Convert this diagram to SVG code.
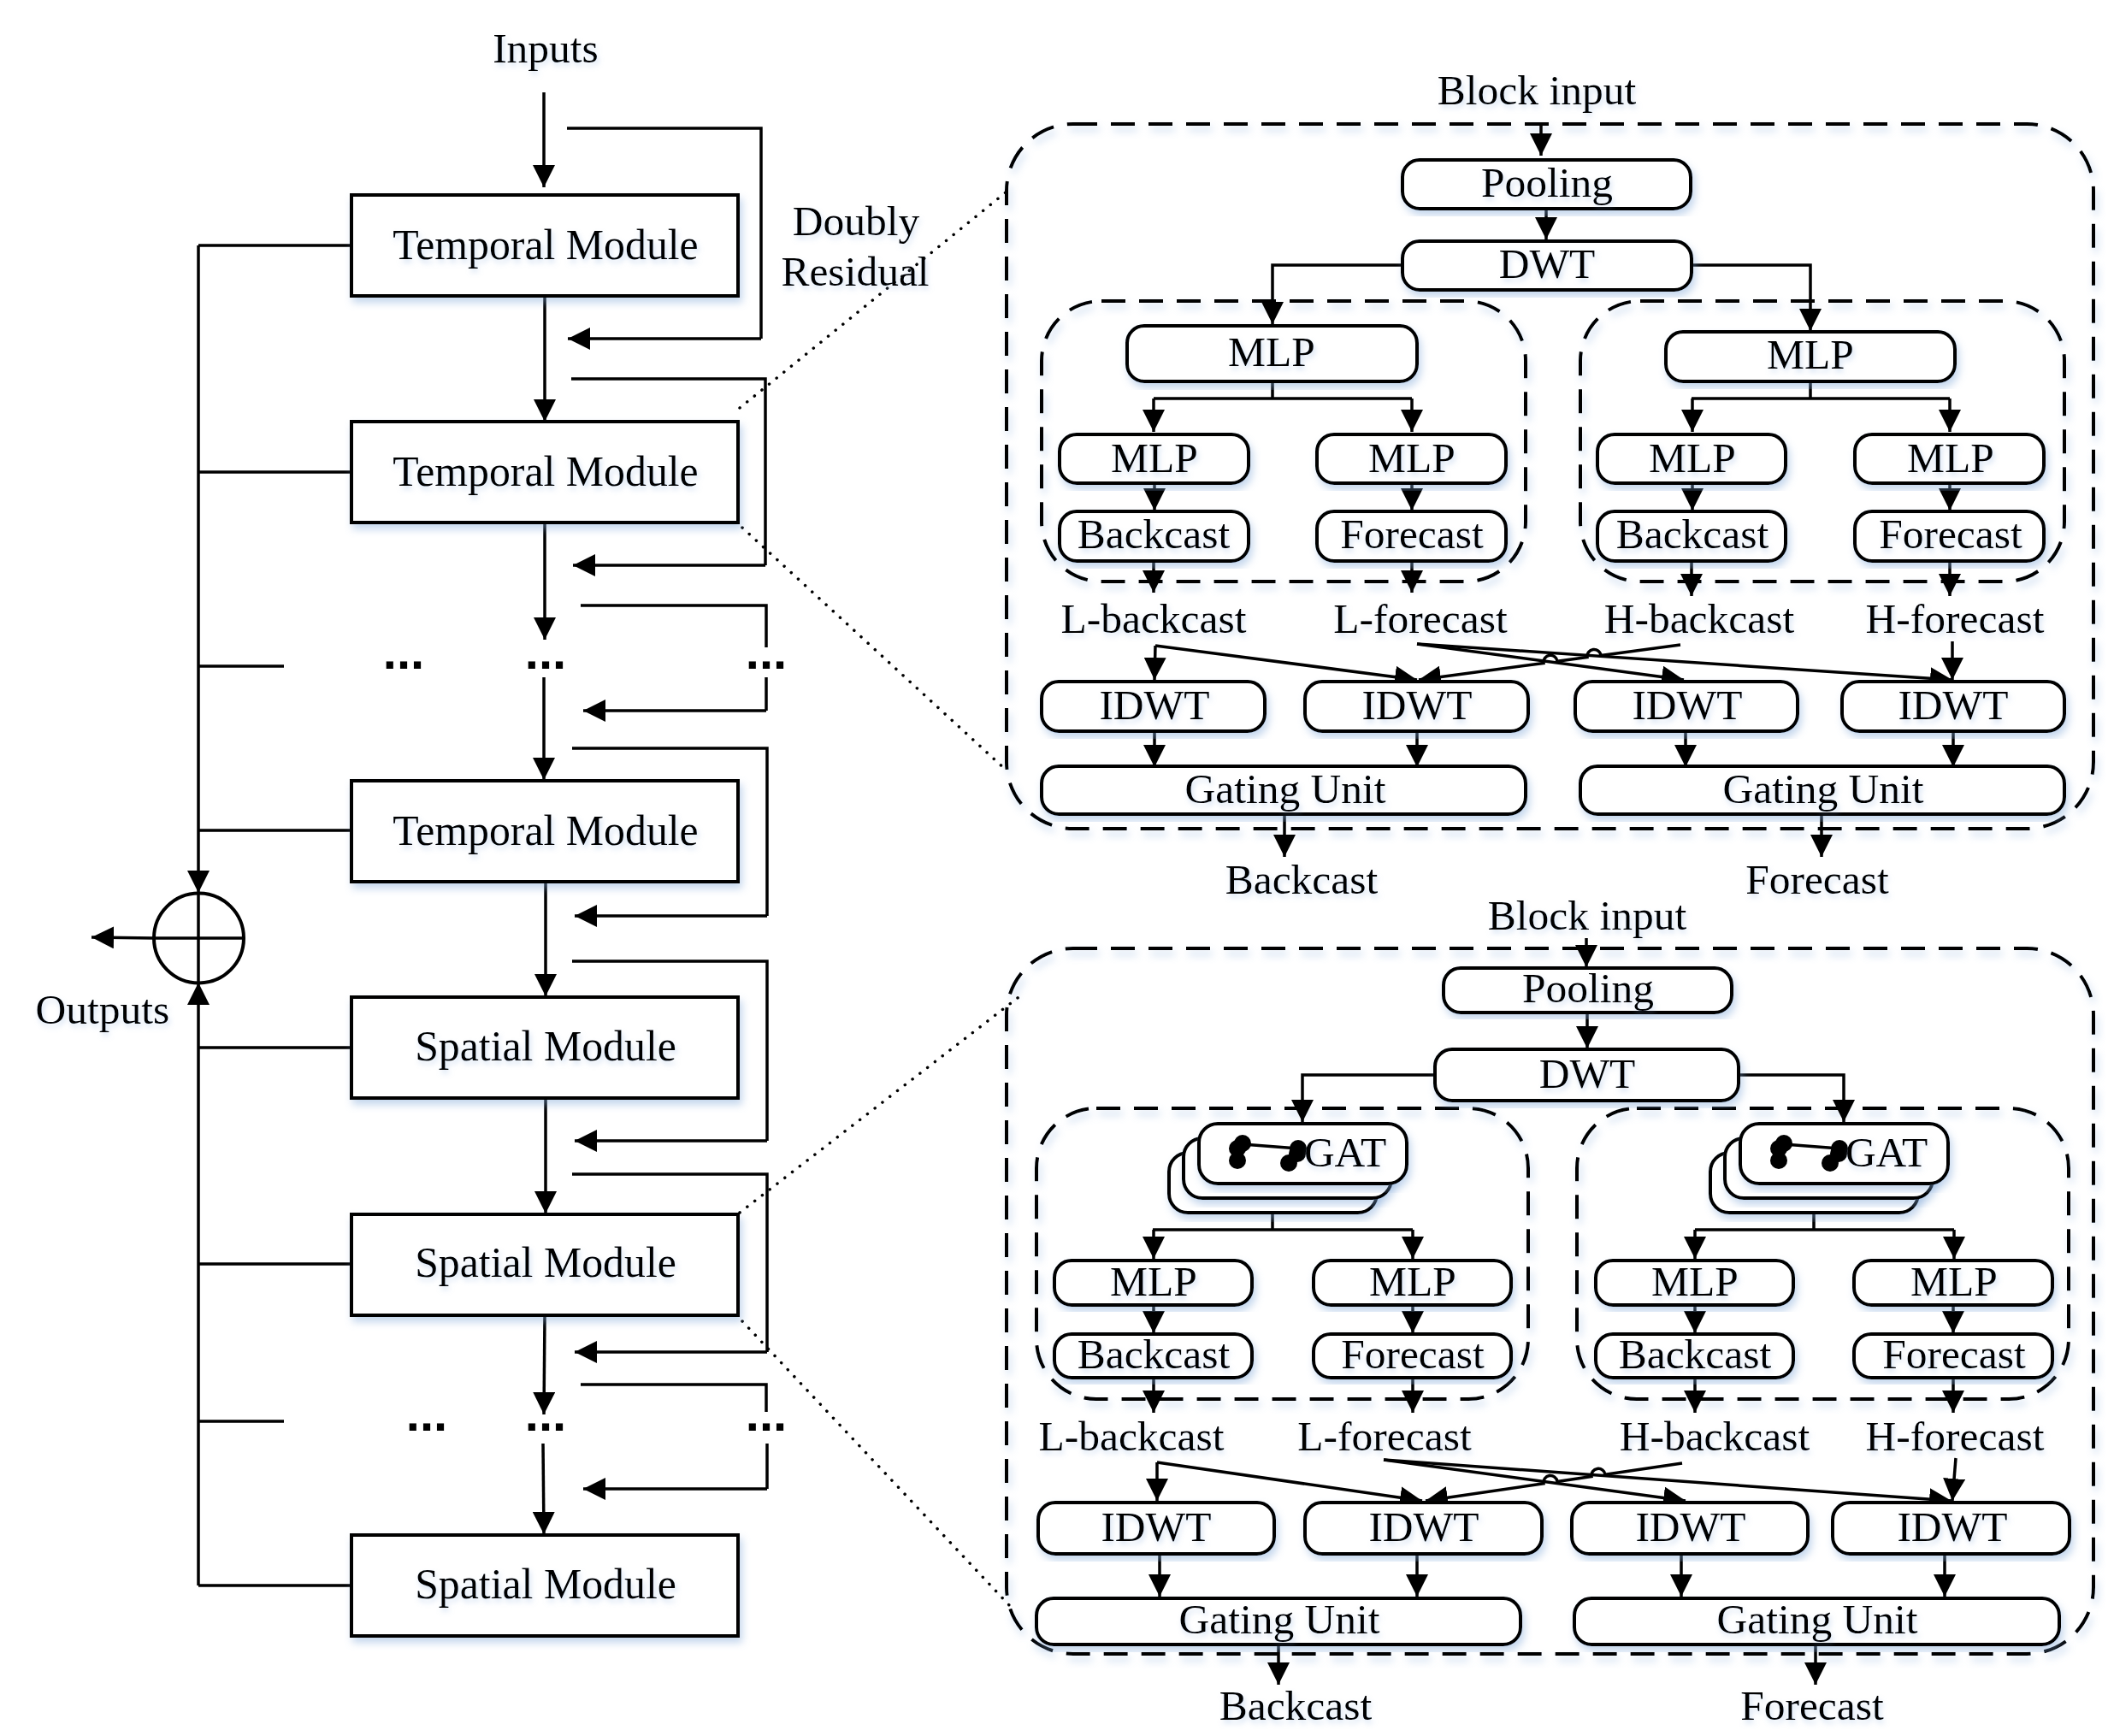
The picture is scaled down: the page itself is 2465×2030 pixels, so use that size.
<svg xmlns="http://www.w3.org/2000/svg" width="2465" height="2030" viewBox="0 0 2465 2030">
<style>
text{font-family:"Liberation Serif","Times New Roman",serif;font-size:49.5px;fill:#000;text-anchor:middle;filter:url(#ts)}
.dots{font-family:"Liberation Sans",Arial,sans-serif;font-weight:bold;font-size:58px;filter:none}
.mt{font-size:49.8px}
.m{fill:#fff;stroke:#000;stroke-width:4;filter:url(#bs)}
.r{fill:#fff;stroke:#000;stroke-width:4;filter:url(#bs)}
.d{fill:none;stroke:#000;stroke-width:4;stroke-dasharray:28 16;filter:url(#bs)}
.c{fill:none;stroke:#000;stroke-width:3.5}
.a{fill:none;stroke:#000;stroke-width:3.5;marker-end:url(#ah)}
.dot{fill:none;stroke:#000;stroke-width:3.5;stroke-dasharray:0.1 11;stroke-linecap:round}
.n{fill:#000}
</style>
<defs>
<marker id="ah" markerUnits="userSpaceOnUse" viewBox="0 0 26 26" refX="26" refY="13" markerWidth="26" markerHeight="26" orient="auto"><path d="M0 0L26 13L0 26z" fill="#000"/></marker>
<filter id="bs" x="-10%" y="-10%" width="125%" height="125%"><feDropShadow dx="3" dy="6" stdDeviation="5" flood-color="#7fa6d8" flood-opacity="0.45"/></filter>
<filter id="ts" x="-5%" y="-10%" width="115%" height="130%"><feDropShadow dx="2" dy="4" stdDeviation="3" flood-color="#7fa6d8" flood-opacity="0.35"/></filter>
</defs>
<g id="panel-frames">
<rect id="outer-top" class="d" x="1177" y="145" width="1271" height="824" rx="78"/>
<rect id="outer-bottom" class="d" x="1177" y="1109" width="1271" height="825" rx="78"/>
<rect id="inner-tl" class="d" x="1218" y="352" width="566" height="328" rx="70"/>
<rect id="inner-tr" class="d" x="1848" y="352" width="566" height="328" rx="70"/>
<rect id="inner-bl" class="d" x="1212" y="1296" width="575" height="340" rx="70"/>
<rect id="inner-br" class="d" x="1844" y="1296" width="575" height="340" rx="70"/>
</g>
<g id="connectors">
<path class="a" d="M636 108V219"/>
<path class="c" d="M663 150H890V396"/><path class="a" d="M890 396H664"/>
<path class="a" d="M637 346V493"/>
<path class="c" d="M668 443H895V661"/><path class="a" d="M895 661H670"/>
<path class="a" d="M637 611V748"/>
<path class="c" d="M679 708H896V757"/>
<path class="c" d="M896 792V831"/><path class="a" d="M896 831H682"/>
<path class="a" d="M636 792V912"/>
<path class="c" d="M669 875H897V1071"/><path class="a" d="M897 1071H672"/>
<path class="a" d="M638 1031V1165"/>
<path class="c" d="M669 1124H897V1334"/><path class="a" d="M897 1334H672"/>
<path class="a" d="M638 1284V1419"/>
<path class="c" d="M669 1373H897V1581"/><path class="a" d="M897 1581H672"/>
<path class="a" d="M637 1538L636 1654"/>
<path class="c" d="M679 1619H896V1651"/>
<path class="c" d="M897 1688V1741"/><path class="a" d="M897 1741H682"/>
<path class="a" d="M635 1688L636 1794"/>
<path class="c" d="M411 287H232"/>
<path class="a" d="M232 287V1044"/>
<path class="a" d="M232 1854V1149"/>
<path class="c" d="M411 552H232M411 971H232M332 779H232M411 1225H232M411 1478H232M332 1662H232M411 1854H232"/>
<path class="a" d="M180 1097L107 1096"/>
<path class="dot" d="M865 477L1176 225"/>
<path class="dot" d="M868 617L1176 900"/>
<path class="dot" d="M865 1418L1195 1163"/>
<path class="dot" d="M868 1545L1181 1878"/>

<path class="a" d="M1802 144V182"/>
<path class="a" d="M1808 245V280"/>
<path class="a" d="M1640 310H1488V379"/>
<path class="a" d="M1978 310H2117V387"/>
<path class="c" d="M1488 447V466M2117 447V466"/>
<path class="c" d="M1349 466H1651"/>
<path class="a" d="M1349 466V505"/><path class="a" d="M1651 466V505"/>
<path class="c" d="M1978 466H2280"/><path class="a" d="M1979 466V505"/><path class="a" d="M2280 466V505"/>
<path class="a" d="M1350 565V597"/><path class="a" d="M1651 565V597"/><path class="a" d="M1979 565V597"/><path class="a" d="M2280 565V597"/>
<path class="a" d="M1349 656V693"/><path class="a" d="M1651 656V693"/><path class="a" d="M1978 656V697"/><path class="a" d="M2280 656V697"/>
<path class="a" d="M1351 755L1350 795"/>
<path class="a" d="M1351 755L1657 795"/>
<path class="a" d="M1657 753L1969 795"/>
<path class="a" d="M1657 753L2283 795"/>
<path class="a" d="M1965 754L1872 766.500A8 8 0 0 0 1856 768.600L1821 773.300A8 8 0 0 0 1805 775.400L1659 795"/>
<path class="a" d="M2283 750V795"/>
<path class="a" d="M1350 855V897"/><path class="a" d="M1657 855V897"/><path class="a" d="M1971 855V897"/><path class="a" d="M2284 855V897"/>
<path class="a" d="M1502 953V1002"/><path class="a" d="M2130 953V1002"/>

<path class="a" d="M1855 1097V1131"/>
<path class="a" d="M1856 1185V1226"/>
<path class="a" d="M1678 1257H1523V1312"/>
<path class="a" d="M2034 1257H2156V1312"/>
<path class="c" d="M1488 1418V1438M1348 1438H1652"/><path class="a" d="M1349 1438V1472"/><path class="a" d="M1652 1438V1472"/>
<path class="c" d="M2121 1418V1438M1982 1438H2285"/><path class="a" d="M1982 1438V1472"/><path class="a" d="M2285 1438V1472"/>
<path class="a" d="M1349 1526V1559"/><path class="a" d="M1652 1526V1559"/><path class="a" d="M1982 1526V1559"/><path class="a" d="M2284 1526V1559"/>
<path class="a" d="M1349 1611V1652"/><path class="a" d="M1652 1611V1652"/><path class="a" d="M1982 1611V1652"/><path class="a" d="M2284 1611V1652"/>
<path class="a" d="M1353 1710V1755"/>
<path class="a" d="M1353 1710L1663 1755"/>
<path class="a" d="M1618 1707L1971 1755"/>
<path class="a" d="M1618 1707L2282 1755"/>
<path class="a" d="M1967 1711L1877 1724.200A8 8 0 0 0 1861 1726.600L1821 1732.400A8 8 0 0 0 1805 1734.800L1667 1755"/>
<path class="a" d="M2287 1705L2283 1755"/>
<path class="a" d="M1356 1818V1867"/><path class="a" d="M1657 1818V1867"/><path class="a" d="M1966 1818V1867"/><path class="a" d="M2274 1818V1867"/>
<path class="a" d="M1495 1924V1970"/><path class="a" d="M2123 1924V1970"/>
</g>
<g id="left-labels">
<text x="638" y="73">Inputs</text>
<text x="1001" y="275">Doubly</text>
<text x="1000" y="334">Residual</text>
<text x="120" y="1197">Outputs</text>
<text class="dots" x="472" y="782">...</text><text class="dots" x="638" y="782">...</text><text class="dots" x="896" y="782">...</text>
<text class="dots" x="499" y="1673">...</text><text class="dots" x="638" y="1673">...</text><text class="dots" x="896" y="1673">...</text>
</g>
<g id="temporal-1"><rect class="m" x="411" y="228" width="452" height="118"/><text class="mt" x="638" y="303">Temporal Module</text></g>
<g id="temporal-2"><rect class="m" x="411" y="493" width="452" height="118"/><text class="mt" x="638" y="568">Temporal Module</text></g>
<g id="temporal-3"><rect class="m" x="411" y="913" width="452" height="118"/><text class="mt" x="638" y="988">Temporal Module</text></g>
<g id="spatial-1"><rect class="m" x="411" y="1166" width="452" height="118"/><text class="mt" x="638" y="1240">Spatial Module</text></g>
<g id="spatial-2"><rect class="m" x="411" y="1420" width="452" height="118"/><text class="mt" x="638" y="1493">Spatial Module</text></g>
<g id="spatial-3"><rect class="m" x="411" y="1795" width="452" height="118"/><text class="mt" x="638" y="1869">Spatial Module</text></g>
<g id="sum"><circle cx="232.500" cy="1097" r="52.500" fill="none" stroke="#000" stroke-width="4"/><path d="M180 1097H285M232 1044V1149" stroke="#000" stroke-width="3.500"/></g>

<g id="upper-block">
<text x="1797" y="122">Block input</text>
<g id="u-pooling"><rect class="r" x="1640" y="187" width="337" height="57" rx="20"/><text x="1809" y="230">Pooling</text></g>
<g id="u-dwt"><rect class="r" x="1640" y="282" width="338" height="57" rx="20"/><text x="1809" y="325">DWT</text></g>
<g id="u-mlp-l"><rect class="r" x="1318" y="381" width="339" height="65" rx="20"/><text x="1487" y="428">MLP</text></g>
<g id="u-mlp-r"><rect class="r" x="1948" y="388" width="338" height="58" rx="20"/><text x="2117" y="431">MLP</text></g>
<g id="u-mlp1"><rect class="r" x="1239" y="508" width="221" height="57" rx="20"/><text x="1350" y="552">MLP</text></g>
<g id="u-mlp2"><rect class="r" x="1540" y="508" width="221" height="57" rx="20"/><text x="1651" y="552">MLP</text></g>
<g id="u-mlp3"><rect class="r" x="1868" y="508" width="220" height="57" rx="20"/><text x="1979" y="552">MLP</text></g>
<g id="u-mlp4"><rect class="r" x="2169" y="508" width="221" height="57" rx="20"/><text x="2281" y="552">MLP</text></g>
<g id="u-back1"><rect class="r" x="1239" y="598" width="221" height="58" rx="20"/><text x="1349" y="641">Backcast</text></g>
<g id="u-fore1"><rect class="r" x="1540" y="598" width="221" height="58" rx="20"/><text x="1651" y="641">Forecast</text></g>
<g id="u-back2"><rect class="r" x="1868" y="598" width="220" height="58" rx="20"/><text x="1979" y="641">Backcast</text></g>
<g id="u-fore2"><rect class="r" x="2169" y="598" width="221" height="58" rx="20"/><text x="2281" y="641">Forecast</text></g>
<text x="1349" y="740">L-backcast</text><text x="1661" y="740">L-forecast</text><text x="1987" y="740">H-backcast</text><text x="2286" y="740">H-forecast</text>
<g id="u-idwt1"><rect class="r" x="1218" y="797" width="261" height="58" rx="20"/><text x="1350" y="841">IDWT</text></g>
<g id="u-idwt2"><rect class="r" x="1526" y="797" width="261" height="58" rx="20"/><text x="1657" y="841">IDWT</text></g>
<g id="u-idwt3"><rect class="r" x="1842" y="797" width="260" height="58" rx="20"/><text x="1973" y="841">IDWT</text></g>
<g id="u-idwt4"><rect class="r" x="2154" y="797" width="260" height="58" rx="20"/><text x="2284" y="841">IDWT</text></g>
<g id="u-gate1"><rect class="r" x="1218" y="896" width="566" height="56" rx="20"/><text x="1503" y="939">Gating Unit</text></g>
<g id="u-gate2"><rect class="r" x="1848" y="896" width="566" height="56" rx="20"/><text x="2132" y="939">Gating Unit</text></g>
<text x="1522" y="1045">Backcast</text><text x="2125" y="1045">Forecast</text>
</g>

<g id="lower-block">
<text x="1856" y="1087">Block input</text>
<g id="l-pooling"><rect class="r" x="1688" y="1132" width="337" height="52" rx="20"/><text x="1857" y="1172">Pooling</text></g>
<g id="l-dwt"><rect class="r" x="1678" y="1227" width="355" height="60" rx="20"/><text x="1856" y="1272">DWT</text></g>
<g id="l-gat-l">
<rect class="r" x="1367" y="1348" width="243" height="70" rx="22"/><rect class="r" x="1384" y="1331" width="243" height="70" rx="22"/><rect class="r" x="1402" y="1314" width="243" height="70" rx="22"/>
<circle class="n" cx="1453" cy="1337" r="10"/><circle class="n" cx="1447" cy="1343" r="10"/><circle class="n" cx="1447" cy="1357" r="10"/><circle class="n" cx="1518" cy="1343" r="10"/><circle class="n" cx="1517" cy="1349" r="10"/><circle class="n" cx="1507" cy="1360" r="10"/>
<path d="M1453 1338L1518 1343" stroke="#000" stroke-width="3.500"/>
<text x="1573" y="1364">GAT</text></g>
<g id="l-gat-r">
<rect class="r" x="2000" y="1348" width="243" height="70" rx="22"/><rect class="r" x="2017" y="1331" width="243" height="70" rx="22"/><rect class="r" x="2035" y="1314" width="243" height="70" rx="22"/>
<circle class="n" cx="2086" cy="1337" r="10"/><circle class="n" cx="2080" cy="1343" r="10"/><circle class="n" cx="2080" cy="1357" r="10"/><circle class="n" cx="2151" cy="1343" r="10"/><circle class="n" cx="2150" cy="1349" r="10"/><circle class="n" cx="2140" cy="1360" r="10"/>
<path d="M2086 1338L2151 1343" stroke="#000" stroke-width="3.500"/>
<text x="2206" y="1364">GAT</text></g>
<g id="l-mlp1"><rect class="r" x="1233" y="1474" width="231" height="52" rx="20"/><text x="1349" y="1515">MLP</text></g>
<g id="l-mlp2"><rect class="r" x="1536" y="1474" width="231" height="52" rx="20"/><text x="1652" y="1515">MLP</text></g>
<g id="l-mlp3"><rect class="r" x="1866" y="1474" width="231" height="52" rx="20"/><text x="1982" y="1515">MLP</text></g>
<g id="l-mlp4"><rect class="r" x="2168" y="1474" width="232" height="52" rx="20"/><text x="2285" y="1515">MLP</text></g>
<g id="l-back1"><rect class="r" x="1233" y="1560" width="231" height="51" rx="20"/><text x="1349" y="1600">Backcast</text></g>
<g id="l-fore1"><rect class="r" x="1536" y="1560" width="231" height="51" rx="20"/><text x="1652" y="1600">Forecast</text></g>
<g id="l-back2"><rect class="r" x="1866" y="1560" width="231" height="51" rx="20"/><text x="1982" y="1600">Backcast</text></g>
<g id="l-fore2"><rect class="r" x="2168" y="1560" width="232" height="51" rx="20"/><text x="2285" y="1600">Forecast</text></g>
<text x="1323" y="1696">L-backcast</text><text x="1619" y="1696">L-forecast</text><text x="2005" y="1696">H-backcast</text><text x="2286" y="1696">H-forecast</text>
<g id="l-idwt1"><rect class="r" x="1214" y="1757" width="276" height="60" rx="20"/><text x="1352" y="1802">IDWT</text></g>
<g id="l-idwt2"><rect class="r" x="1526" y="1757" width="277" height="60" rx="20"/><text x="1665" y="1802">IDWT</text></g>
<g id="l-idwt3"><rect class="r" x="1838" y="1757" width="276" height="60" rx="20"/><text x="1977" y="1802">IDWT</text></g>
<g id="l-idwt4"><rect class="r" x="2143" y="1757" width="277" height="60" rx="20"/><text x="2283" y="1802">IDWT</text></g>
<g id="l-gate1"><rect class="r" x="1212" y="1869" width="566" height="54" rx="20"/><text x="1496" y="1910">Gating Unit</text></g>
<g id="l-gate2"><rect class="r" x="1841" y="1869" width="567" height="54" rx="20"/><text x="2125" y="1910">Gating Unit</text></g>
<text x="1515" y="2011">Backcast</text><text x="2119" y="2011">Forecast</text>
</g>
</svg>
